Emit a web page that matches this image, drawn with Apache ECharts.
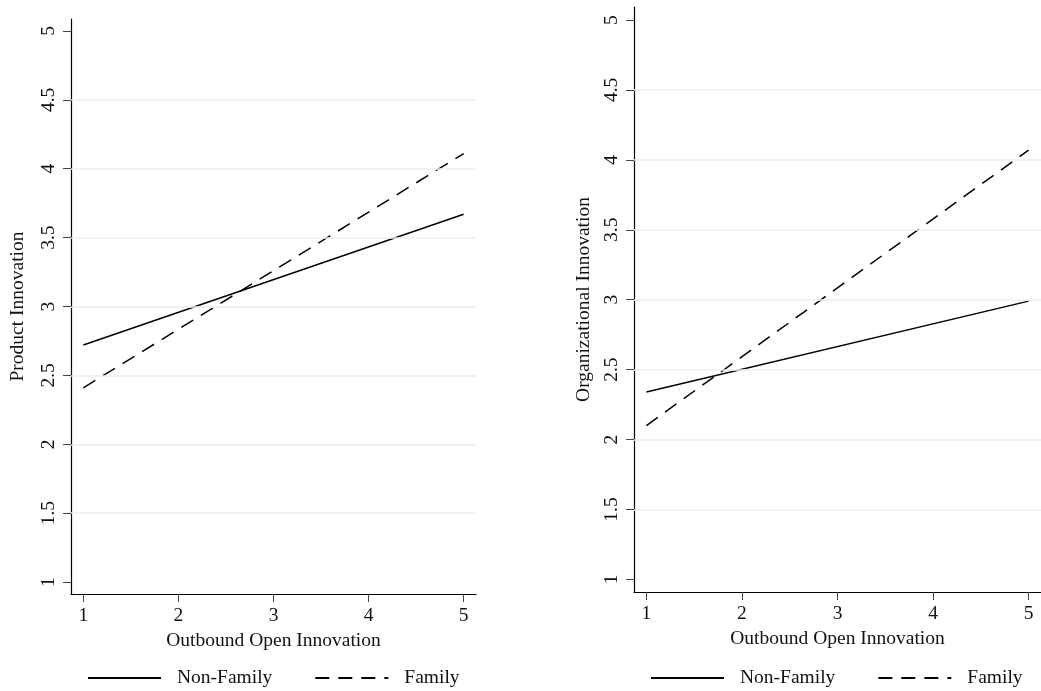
<!DOCTYPE html>
<html>
<head>
<meta charset="utf-8">
<script src="https://cdn.jsdelivr.net/npm/echarts@6/dist/echarts.min.js"></script>
<style>
html,body{margin:0;padding:0;background:#fff;}
#chart{width:1041px;height:691px;}
</style>
</head>
<body>
<div id="chart"></div>
<script>
// ---- data ----
const xValues = [1, 5];
const prodNonFamily = [2.72, 3.67];
const prodFamily = [2.41, 4.11];
const orgNonFamily = [2.34, 2.99];
const orgFamily = [2.10, 4.07];
const xTicks = [1, 2, 3, 4, 5];
const yTicks = [1, 1.5, 2, 2.5, 3, 3.5, 4, 4.5, 5];
const gridValues = [1.5, 2, 2.5, 3, 3.5, 4, 4.5];
const seriesNames = ['Non-Family', 'Family'];
const xTitle = 'Outbound Open Innovation';
const yTitles = ['Product Innovation', 'Organizational Innovation'];

const FONT = '"Liberation Serif", "Times New Roman", serif';
const FS = 19.5;
const txt = '#111';

function pts(ys) { return xValues.map((x, i) => [x, ys[i]]); }

function xAxis(gi) {
  return {
    type: 'value', gridIndex: gi, min: 0.87, max: 5.13,
    name: xTitle, nameLocation: 'middle', nameGap: 31,
    nameTextStyle: {fontFamily: FONT, fontSize: FS, color: txt},
    axisLine: {show: true, onZero: false, lineStyle: {color: '#000', width: 1.2}},
    axisTick: {show: true, length: 8, customValues: xTicks, lineStyle: {color: '#444', width: 1}},
    axisLabel: {customValues: xTicks, margin: 12, fontFamily: FONT, fontSize: FS, color: txt},
    splitLine: {show: false}
  };
}
function yAxis(gi, min, max, gap) {
  return {
    type: 'value', gridIndex: gi, min: min, max: max,
    name: yTitles[gi], nameLocation: 'middle', nameGap: gap,
    nameTextStyle: {fontFamily: FONT, fontSize: FS, color: txt},
    axisLine: {show: true, onZero: false, lineStyle: {color: '#000', width: 1.2}},
    axisTick: {show: true, length: 8, customValues: yTicks, lineStyle: {color: '#444', width: 1}},
    axisLabel: {customValues: yTicks, rotate: 90, margin: 12, fontFamily: FONT, fontSize: FS, color: txt,
      formatter: v => String(v)},
    splitLine: {show: false}
  };
}
function gridSeries(gi) {
  return {
    type: 'line', xAxisIndex: gi, yAxisIndex: gi, data: [], z: 1, silent: true,
    markLine: {
      silent: true, symbol: 'none', label: {show: false},
      lineStyle: {color: '#e8f0f2', width: 1.5, type: 'solid'},
      data: gridValues.map(v => ({yAxis: v}))
    }
  };
}
function dataSeries(gi, name, ys, dashed) {
  return {
    name: name, type: 'line', xAxisIndex: gi, yAxisIndex: gi, data: pts(ys), z: 3,
    symbol: 'none', showSymbol: false, animation: false,
    lineStyle: {color: '#000', width: 1.5, type: dashed ? [14, 9] : 'solid'},
    itemStyle: {color: '#000'}
  };
}
function legend(left) {
  return {
    data: seriesNames, left: left, top: 668, orient: 'horizontal', padding: 0,
    itemWidth: 73, itemHeight: 14, itemGap: 42,
    selectedMode: false,
    itemStyle: {opacity: 0},
    textStyle: {fontFamily: FONT, fontSize: FS, color: txt, padding: [0, 0, 0, 11]}
  };
}

const chart = echarts.init(document.getElementById('chart'), null, {renderer: 'canvas'});
chart.setOption({
  animation: false,
  backgroundColor: '#fff',
  grid: [
    {left: 71, top: 19, right: 565, bottom: 97, containLabel: false},
    {left: 634, top: 7, right: -5, bottom: 99, containLabel: false}
  ],
  xAxis: [xAxis(0), xAxis(1)],
  yAxis: [yAxis(0, 0.913, 5.087, 43), yAxis(1, 0.91, 5.093, 40)],
  legend: [legend(87), legend(650)],
  series: [
    gridSeries(0), gridSeries(1),
    dataSeries(0, seriesNames[0], prodNonFamily, false),
    dataSeries(0, seriesNames[1], prodFamily, true),
    dataSeries(1, seriesNames[0], orgNonFamily, false),
    dataSeries(1, seriesNames[1], orgFamily, true)
  ]
});
</script>
</body>
</html>
